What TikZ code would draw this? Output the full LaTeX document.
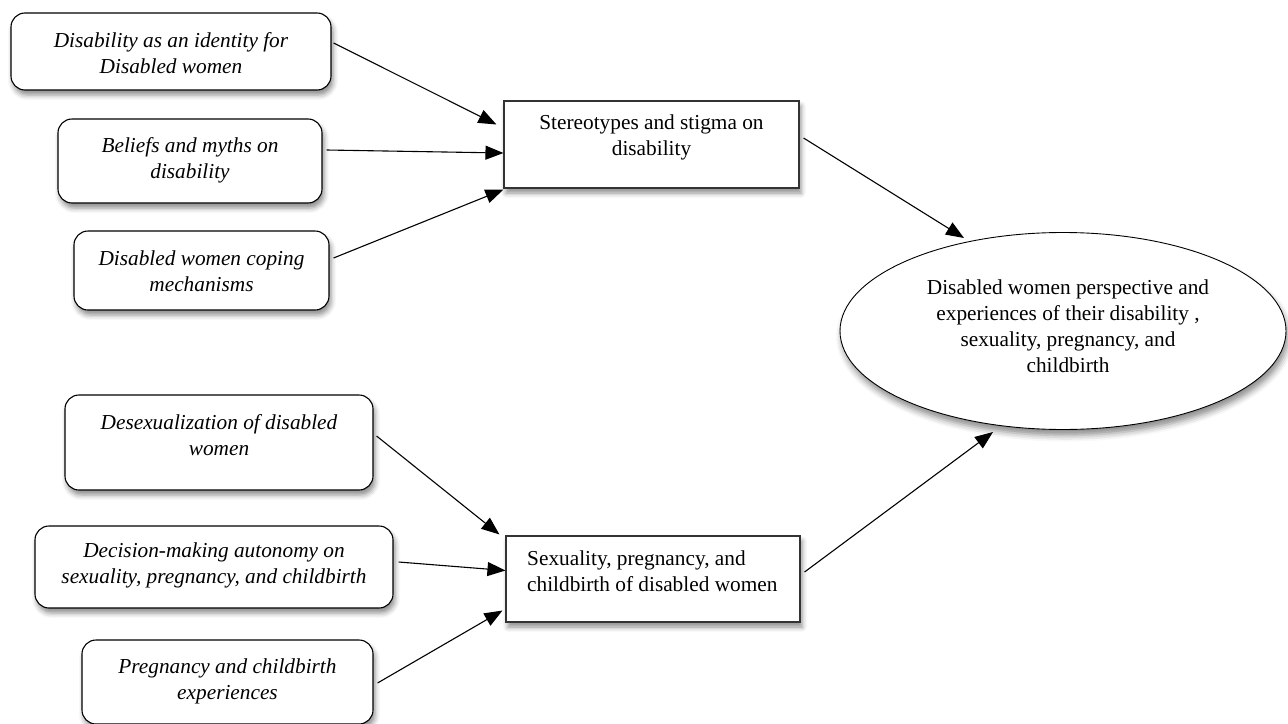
\documentclass[tikz,border=0pt]{standalone}
\usepackage{fontspec}
\setmainfont{Liberation Serif}
\usetikzlibrary{arrows.meta,shapes.geometric,shadows.blur,calc}
\tikzset{
  rbox/.style={draw=black, line width=1.1pt, rounded corners=14pt, fill=white,
    blur shadow={shadow xshift=2pt, shadow yshift=-5pt, shadow blur radius=5pt, shadow opacity=45}},
  sbox/.style={draw=black!80, line width=1.1pt, fill=white,
    blur shadow={shadow xshift=2pt, shadow yshift=-5pt, shadow blur radius=5pt, shadow opacity=45}},
  ebox/.style={ellipse, draw=black, line width=0.9pt, fill=white,
    blur shadow={shadow xshift=2pt, shadow yshift=-6pt, shadow blur radius=6pt, shadow opacity=45}},
  itxt/.style={font=\fontsize{21.3}{26}\selectfont\itshape, align=center, inner sep=0pt},
  rtxt/.style={font=\fontsize{21.3}{26}\selectfont, align=center, inner sep=0pt},
  conn/.style={line width=1.1pt, -{Triangle[length=18pt,width=14pt]}},
}
\begin{document}
\begin{tikzpicture}[x=1pt,y=-1pt]
\useasboundingbox (0,0) rectangle (1288,723);
% left boxes (top group)
\node[rbox, minimum width=320pt, minimum height=77pt] (b1) at (171,51.5) {};
\node[itxt] (t1) at (171,53) {Disability as an identity for\\Disabled women};
\node[rbox, minimum width=264pt, minimum height=84pt] (b2) at (190,161) {};
\node[itxt] (t2) at (190,160) {Beliefs and myths on\\disability};
\node[rbox, minimum width=255pt, minimum height=79pt] (b3) at (201.5,270.5) {};
\node[itxt] (t3) at (201.5,271) {Disabled women coping\\mechanisms};
% stereotypes box
\node[sbox, minimum width=295pt, minimum height=87pt] (s1) at (651.5,144.5) {};
\node[rtxt] (ts1) at (651.5,137.5) {Stereotypes and stigma on\\disability};
% ellipse
\node[ebox, minimum width=446pt, minimum height=197pt] (e) at (1063,331) {};
\node[rtxt] (te) at (1068,326) {Disabled women perspective and\\experiences of their disability ,\\sexuality, pregnancy, and\\childbirth};
% left boxes (bottom group)
\node[rbox, minimum width=308pt, minimum height=95pt] (b4) at (219,442.5) {};
\node[itxt] (t4) at (219,435) {Desexualization of disabled\\women};
\node[rbox, minimum width=358pt, minimum height=82pt] (b5) at (214,567) {};
\node[itxt] (t5) at (214,565) {Decision-making autonomy on\\sexuality, pregnancy, and childbirth};
\node[rbox, minimum width=291pt, minimum height=84pt] (b6) at (227.5,682) {};
\node[itxt] (t6) at (227.5,681) {Pregnancy and childbirth\\experiences};
% sexuality box
\node[sbox, minimum width=294pt, minimum height=86pt] (s2) at (653,579) {};
\node[rtxt, align=left, anchor=west] (ts2) at (527,571) {Sexuality, pregnancy, and\\childbirth of disabled women};
% connectors
\draw[conn] ($(b1.east)+(2,-8.5)$) -- ($(s1.west)+(-7,-20)$);
\draw[conn] ($(b2.east)+(4,-11)$) -- ($(s1.west)+(0,8.5)$);
\draw[conn] ($(b3.east)+(4,-12.5)$) -- ($(s1.south west)+(0,1)$);
\draw[conn] ($(s1.east)+(4,-6.5)$) -- ($(e.center)+(-99,-93)$);
\draw[conn] ($(b4.east)+(3,-6.5)$) -- ($(s2.north west)+(-6,-1)$);
\draw[conn] ($(b5.east)+(5,-5)$) -- ($(s2.west)+(0,-8.5)$);
\draw[conn] ($(b6.east)+(4,1)$) -- ($(s2.south west)+(-3,-12)$);
\draw[conn] ($(s2.east)+(4,-7)$) -- ($(e.center)+(-70,101)$);
\end{tikzpicture}
\end{document}
